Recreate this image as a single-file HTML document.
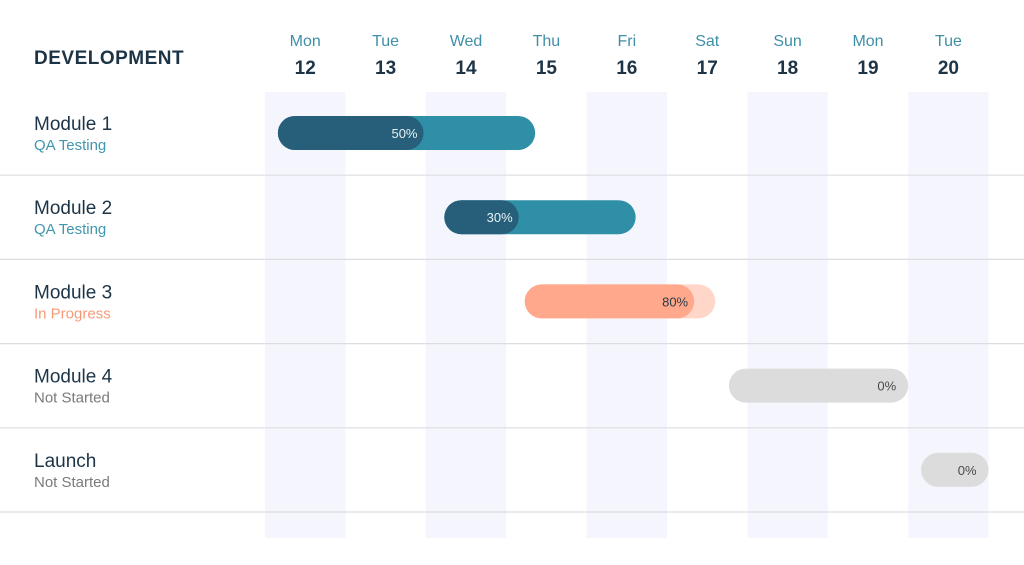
<!DOCTYPE html>
<html><head><meta charset="utf-8">
<style>
body{margin:0;width:1024px;height:565px;background:#fff;font-family:"Liberation Sans",sans-serif;overflow:hidden}
svg{display:block}
</style></head><body>
<svg id="chart" width="1024" height="565"></svg>
<script>
const dayNames=["Mon","Tue","Wed","Thu","Fri","Sat","Sun","Mon","Tue"];
const dayNums=["12","13","14","15","16","17","18","19","20"];
const taskNames=["Module 1","Module 2","Module 3","Module 4","Launch"];
const taskStatus=["QA Testing","QA Testing","In Progress","Not Started","Not Started"];
const taskStart=[0.16,2.23,3.23,5.77,8.16];
const taskEnd=[3.36,4.61,5.6,8.0,9.0];
const taskProgress=[50,30,80,0,0];

const NS="http://www.w3.org/2000/svg";
const svg=document.getElementById('chart');
const x0=265,dayW=80.4,rowTop=92,rowH=84.2;
const xs=d=>x0+d*dayW;
const ys=i=>rowTop+i*rowH;
function mk(t,a,p){const e=document.createElementNS(NS,t);for(const k in a)e.setAttribute(k,a[k]);(p||svg).appendChild(e);return e;}
const statusColor={"QA Testing":"#3f96ad","In Progress":"#f79a76","Not Started":"#7a7a7a"};
const pal={"QA Testing":["#2e8fa6","#275f7b","#e8f2f5"],"In Progress":["#ffd6c8","#ffa88b","#2a3a48"],"Not Started":["#dcdcdc","#dcdcdc","#4a4a4a"]};

// shaded columns
for(let i=0;i<dayNames.length;i+=2){
  const r=mk('rect',{x:xs(i),y:rowTop,width:dayW,height:446,fill:'#f5f6fd'});
  
  
}
// title
const tt=mk('text',{x:34,y:64,'font-size':19,'font-weight':'bold',fill:'#1d3447','letter-spacing':'0.5'});
tt.textContent="DEVELOPMENT";


// headers
dayNames.forEach((n,i)=>{
  const cx=xs(i+0.5);
  const a=mk('text',{x:cx,y:46,'font-size':16,fill:'#3f8fa7','text-anchor':'middle'});
  a.textContent=n;
  
  
  const b=mk('text',{x:cx,y:74,'font-size':19,'font-weight':'bold',fill:'#1d3447','text-anchor':'middle'});
  b.textContent=dayNums[i];
  
  
});
// rows
taskNames.forEach((n,i)=>{
  const y=ys(i);
  const line=mk('line',{x1:0,x2:1024,y1:y+rowH-1,y2:y+rowH-1,stroke:'#dcdde3','stroke-width':1.2});
  
  
  const t=mk('text',{x:34,y:y+38,'font-size':19,fill:'#1d3447'});
  t.textContent=n;
  
  
  const s=mk('text',{x:34,y:y+58,'font-size':15,fill:statusColor[taskStatus[i]]});
  s.textContent=taskStatus[i];
  
  
  const bx=xs(taskStart[i]),bw=xs(taskEnd[i])-bx,by=y+24,bh=34;
  const c=pal[taskStatus[i]];
  const g=mk('g',{});
  
  
  mk('rect',{x:bx,y:by,width:bw,height:bh,rx:17,fill:c[0]},g);
  const p=taskProgress[i];
  let tx=bx+bw-12;
  if(p>0){
    const pw=Math.min(bw,p/100*bw+17);
    const pr=mk('rect',{x:bx,y:by,width:pw,height:bh,rx:17,fill:c[1]},g);
    
    
    tx=bx+pw-6;
  }
  const lt=mk('text',{x:tx,y:by+22,'font-size':13,fill:c[2],'text-anchor':'end'},g);
  lt.textContent=p+"%";
  
  
});
</script>
</body></html>
